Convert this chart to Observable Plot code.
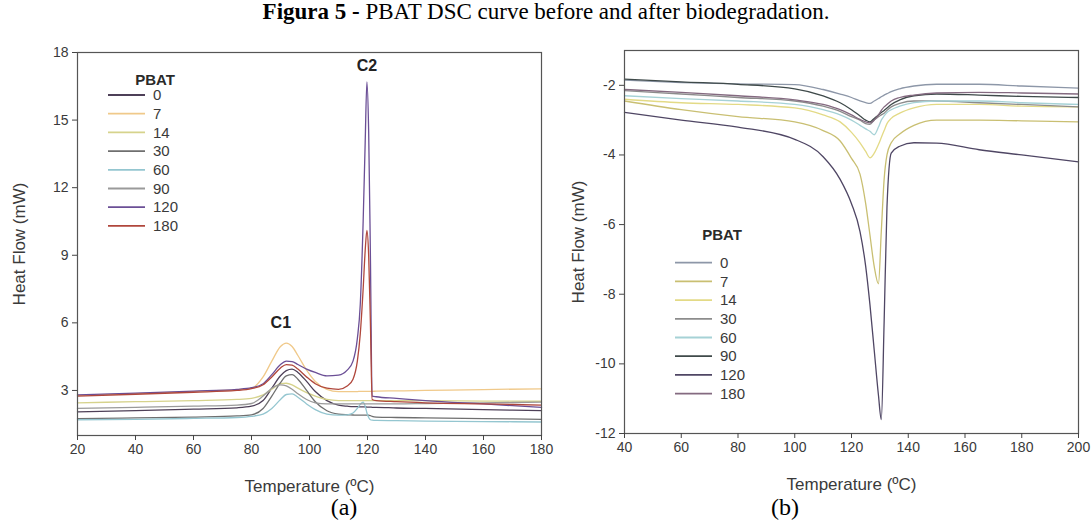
<!DOCTYPE html>
<html><head><meta charset="utf-8">
<script src="https://cdn.jsdelivr.net/npm/d3@7"></script>
<script src="https://cdn.jsdelivr.net/npm/@observablehq/plot@0.6"></script>
<style>
body{margin:0;background:#fff;}
#wrap{position:relative;width:1092px;height:527px;overflow:hidden;background:#fff;}
.serif{font-family:"Liberation Serif","Times New Roman",serif;color:#000;}
#title{position:absolute;left:0;top:0;width:1092px;text-align:center;font-size:23px;line-height:24px;white-space:nowrap;}
.panel{position:absolute;top:0;}
.cap{position:absolute;top:495px;font-size:24px;line-height:24px;transform:translateX(-50%);}
.legend{position:absolute;}
</style></head><body>
<div id="wrap">
 <div id="pa" class="panel" style="left:0;width:560px"></div>
 <div id="pb" class="panel" style="left:546px;width:546px"></div>
 <div id="title" class="serif"><b>Figura 5 -</b> PBAT DSC curve before and after biodegradation.</div>
 <div class="cap serif" style="left:344px">(a)</div>
 <div class="cap serif" style="left:785px">(b)</div>
 <div id="legA" class="legend"></div>
 <div id="legB" class="legend"></div>
</div>
<script>
// ---------- DATA ----------
const seriesNames = ["0", "7", "14", "30", "60", "90", "120", "180"];

// Panel (a): temperatures (°C) and heat flow (mW)
const tempA = [20, 40, 60, 75, 80, 84, 87, 90, 92, 94, 96, 99, 102, 106, 110, 113, 115, 116.5, 117.5, 118.5, 119.2, 119.8, 120.4, 121, 121.6, 123, 130, 140, 160, 180];
const a0   = [2.05, 2.1, 2.17, 2.23, 2.3, 2.55, 3.1, 3.65, 3.88, 3.95, 3.8, 3.4, 2.95, 2.55, 2.35, 2.3, 2.28, 2.28, 2.27, 2.27, 2.27, 2.26, 2.26, 2.26, 2.25, 2.25, 2.22, 2.2, 2.15, 2.1];
const a7   = [2.78, 2.86, 2.95, 3.03, 3.1, 3.6, 4.3, 4.95, 5.1, 4.95, 4.55, 3.9, 3.4, 3.05, 2.95, 2.95, 2.95, 2.95, 2.96, 2.96, 2.96, 2.96, 2.96, 2.96, 2.96, 2.97, 2.98, 3.0, 3.04, 3.07];
const a14  = [2.45, 2.5, 2.55, 2.6, 2.65, 2.8, 3.05, 3.3, 3.32, 3.25, 3.1, 2.9, 2.75, 2.6, 2.55, 2.55, 2.55, 2.55, 2.55, 2.55, 2.55, 2.55, 2.55, 2.55, 2.55, 2.55, 2.55, 2.55, 2.53, 2.52];
const a30  = [1.75, 1.78, 1.82, 1.87, 1.92, 2.2, 2.75, 3.35, 3.65, 3.7, 3.5, 3.0, 2.5, 2.1, 1.95, 1.92, 1.91, 1.9, 1.9, 1.9, 1.9, 1.9, 1.9, 1.88, 1.85, 1.82, 1.8, 1.78, 1.75, 1.72];
const a60  = [1.7, 1.72, 1.76, 1.8, 1.85, 1.95, 2.2, 2.6, 2.82, 2.85, 2.7, 2.4, 2.15, 1.95, 1.9, 1.92, 2.0, 2.2, 2.38, 2.48, 2.3, 2.0, 1.8, 1.7, 1.68, 1.67, 1.66, 1.64, 1.62, 1.6];
const a90  = [2.2, 2.25, 2.3, 2.35, 2.42, 2.75, 3.1, 3.25, 3.2, 3.05, 2.85, 2.6, 2.45, 2.4, 2.4, 2.4, 2.4, 2.4, 2.4, 2.4, 2.4, 2.4, 2.4, 2.4, 2.4, 2.4, 2.4, 2.42, 2.45, 2.48];
const a120 = [2.8, 2.88, 2.97, 3.05, 3.12, 3.3, 3.7, 4.15, 4.3, 4.28, 4.15, 3.95, 3.8, 3.65, 3.68, 3.9, 4.3, 5.3, 6.8, 10.5, 14.0, 16.7, 14.5, 9.0, 2.75, 2.72, 2.65, 2.55, 2.4, 2.25];
const a180 = [2.75, 2.83, 2.92, 3.0, 3.08, 3.25, 3.6, 4.0, 4.15, 4.12, 3.95, 3.6, 3.3, 3.1, 3.05, 3.2, 3.5, 4.3, 5.5, 7.5, 9.2, 10.1, 9.0, 6.0, 2.6, 2.55, 2.5, 2.45, 2.4, 2.35];
const xTicksA = [20, 40, 60, 80, 100, 120, 140, 160, 180];
const yTicksA = [3, 6, 9, 12, 15, 18];
const peakLabels = ["C1", "C2"];
const peakT = [90.1, 119.8];
const peakV = [6.0, 17.42];

// Panel (b)
const tempB = [40, 60, 80, 100, 110, 116, 120, 123, 125, 126.5, 128, 129.5, 130.5, 131.5, 132.5, 134, 137, 142, 150, 165, 180, 200];
const b0   = [-1.85, -1.92, -1.96, -1.98, -2.12, -2.25, -2.35, -2.45, -2.5, -2.52, -2.45, -2.38, -2.33, -2.28, -2.24, -2.18, -2.1, -2.02, -1.97, -1.97, -2.02, -2.08];
const b7   = [-2.45, -2.7, -2.9, -3.05, -3.3, -3.6, -4.1, -4.55, -5.4, -6.3, -7.2, -7.7, -6.2, -4.7, -4.0, -3.65, -3.4, -3.15, -3.0, -3.0, -3.02, -3.05];
const b14  = [-2.4, -2.5, -2.55, -2.65, -2.85, -3.05, -3.35, -3.65, -3.9, -4.08, -3.95, -3.7, -3.5, -3.3, -3.1, -2.95, -2.8, -2.65, -2.55, -2.55, -2.6, -2.62];
const b30  = [-2.15, -2.25, -2.35, -2.45, -2.6, -2.75, -2.9, -3.0, -3.1, -3.12, -3.0, -2.9, -2.85, -2.8, -2.72, -2.62, -2.52, -2.45, -2.45, -2.5, -2.55, -2.62];
const b60  = [-2.3, -2.38, -2.45, -2.55, -2.7, -2.85, -3.0, -3.15, -3.25, -3.32, -3.42, -3.2, -3.0, -2.88, -2.78, -2.7, -2.6, -2.5, -2.45, -2.45, -2.5, -2.55];
const b90  = [-1.82, -1.9, -1.97, -2.1, -2.3, -2.5, -2.7, -2.88, -3.0, -3.05, -2.95, -2.85, -2.78, -2.72, -2.65, -2.55, -2.42, -2.3, -2.25, -2.28, -2.32, -2.35];
const b120 = [-2.78, -3.0, -3.2, -3.55, -4.05, -4.7, -5.4, -6.2, -7.2, -8.3, -9.6, -10.9, -11.6, -8.8, -5.5, -3.95, -3.75, -3.65, -3.66, -3.85, -4.0, -4.2];
const b180 = [-2.12, -2.2, -2.3, -2.42, -2.55, -2.7, -2.85, -2.98, -3.05, -3.08, -3.0, -2.85, -2.72, -2.62, -2.55, -2.45, -2.35, -2.28, -2.22, -2.2, -2.22, -2.25];
const xTicksB = [40, 60, 80, 100, 120, 140, 160, 180, 200];
const yTicksB = [-2, -4, -6, -8, -10, -12];

// ---------- STYLES ----------
const colorsA = ["#4e4058", "#f0c98a", "#d6d38c", "#6f6f6f", "#94c6d0", "#9a9a9a", "#6b4f96", "#b0473c"];
const colorsB = ["#8d97a8", "#c9bf72", "#e3da86", "#8c8c8c", "#a6d2d6", "#3f4a4a", "#4f4664", "#846a80"];
const sans = "'Liberation Sans', Arial, sans-serif";

function rows(temps, arrays) {
  return seriesNames.flatMap((s, i) => temps.map((t, j) => ({t, v: arrays[i][j], s})));
}
const rowsA = rows(tempA, [a0, a7, a14, a30, a60, a90, a120, a180]);
const rowsB = rows(tempB, [b0, b7, b14, b30, b60, b90, b120, b180]);
const peaks = peakLabels.map((label, i) => ({label, t: peakT[i], v: peakV[i]}));
const fmt = d => String(d);

function panel({rowsData, colors, xDomain, yDomain, xTicks, yTicks, width, margins, yLabelOffset, extra = []}) {
  return Plot.plot({
    width, height: 500,
    marginLeft: margins[0], marginRight: margins[1], marginTop: margins[2], marginBottom: margins[3],
    x: {domain: xDomain}, y: {domain: yDomain},
    color: {domain: seriesNames, range: colors},
    style: {fontFamily: sans, color: "#3a3a3a", background: "transparent", overflow: "visible"},
    marks: [
      Plot.line(rowsData, {x: "t", y: "v", z: "s", stroke: "s", strokeWidth: 1.3, curve: "monotone-x"}),
      ...extra,
      Plot.frame({stroke: "#555", strokeWidth: 1.2}),
      Plot.axisX({ticks: xTicks, tickSize: 5, tickPadding: 4, tickFormat: fmt, label: null, fontSize: 14, stroke: "#444"}),
      Plot.axisY({ticks: yTicks, tickSize: 5, tickPadding: 4, tickFormat: fmt, label: null, fontSize: 14, stroke: "#444"}),
      Plot.axisX({ticks: [], tickSize: 0, label: "Temperature (ºC)", labelAnchor: "center", labelArrow: "none", labelOffset: 56, fontSize: 17}),
      Plot.axisY({ticks: [], tickSize: 0, label: "Heat Flow (mW)", labelAnchor: "center", labelArrow: "none", labelOffset: yLabelOffset, fontSize: 17})
    ]
  });
}

document.getElementById("pa").append(panel({
  rowsData: rowsA, colors: colorsA, xDomain: [20, 180], yDomain: [1, 18],
  xTicks: xTicksA, yTicks: yTicksA, width: 560, margins: [77, 19, 52, 65], yLabelOffset: 65,
  extra: [Plot.text(peaks, {x: "t", y: "v", text: "label", fontWeight: "bold", fontSize: 16, fill: "#222", lineAnchor: "middle"})]
}));
document.getElementById("pb").append(panel({
  rowsData: rowsB, colors: colorsB, xDomain: [40, 200], yDomain: [-12, -1],
  xTicks: xTicksB, yTicks: yTicksB, width: 546, margins: [78, 14, 50, 67], yLabelOffset: 53
}));

// ---------- LEGENDS ----------
function legend(id, left, top, firstRow, colors) {
  const el = document.getElementById(id);
  el.style.left = left + "px"; el.style.top = top + "px";
  const step = 18.7;
  const svg = d3.select(el).append("svg").attr("width", 90).attr("height", firstRow + step * 8 + 4)
    .style("font-family", sans).style("overflow", "visible");
  svg.append("text").attr("x", 55).attr("y", 17).attr("text-anchor", "middle")
    .attr("font-weight", "bold").attr("font-size", 15).attr("fill", "#2a2a2a").text("PBAT");
  seriesNames.forEach((n, i) => {
    const y = firstRow + step * i;
    svg.append("line").attr("x1", 8).attr("x2", 45).attr("y1", y).attr("y2", y)
      .attr("stroke", colors[i]).attr("stroke-width", 1.8);
    svg.append("text").attr("x", 53).attr("y", y).attr("dy", "0.35em")
      .attr("font-size", 15).attr("fill", "#3a3a3a").text(n);
  });
}
legend("legA", 100, 68, 27, colorsA);
legend("legB", 667, 223, 39.7, colorsB);
</script>
</body></html>
